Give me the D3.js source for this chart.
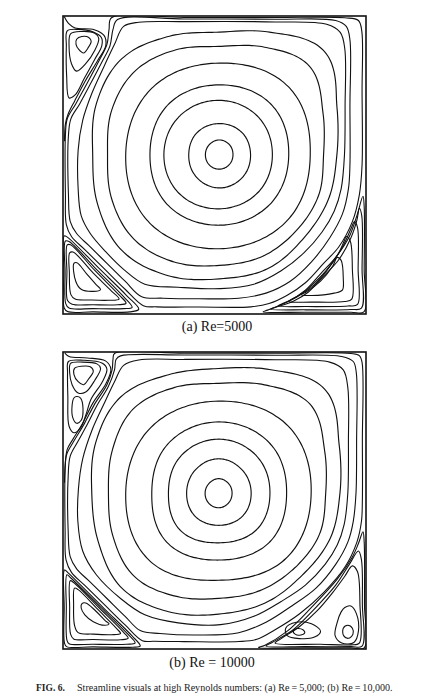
<!DOCTYPE html>
<html><head><meta charset="utf-8">
<script src="https://cdn.jsdelivr.net/npm/d3@7"></script>
<style>html,body{margin:0;padding:0;background:#fff}svg{display:block}</style>
</head><body>
<script>
// ---------- DATA (cavity coordinates: x 0..1 left->right, y 0..1 bottom->top) ----------
const panelLabels = ["(a) Re=5000", "(b) Re = 10000"];
const figCaptionBold = "FIG. 6.";
const figCaptionText = "Streamline visuals at high Reynolds numbers: (a) Re\u2009=\u20095,000; (b) Re\u2009=\u200910,000.";

// Panel (a) Re=5000 : primary-vortex rings as radii at equally spaced angles (from +x, counter-clockwise)
const centerA = [0.516, 0.535];
const ringsA = [
  [0.045,0.047,0.049,0.047,0.046,0.048,0.049,0.047],
  [0.103,0.105,0.104,0.104,0.101,0.107,0.112,0.108],
  [0.175,0.180,0.182,0.184,0.183,0.186,0.182,0.180],
  [0.229,0.240,0.234,0.238,0.229,0.240,0.237,0.236],
  [0.300,0.322,0.307,0.315,0.309,0.325,0.316,0.315],
  [0.344,0.370,0.420,0.390,0.363,0.380,0.395,0.385,0.369,0.385,0.400,0.390,0.372,0.370,0.360,0.355],
  [0.388,0.420,0.490,0.444,0.411,0.430,0.455,0.440,0.418,0.435,0.455,0.440,0.417,0.415,0.395,0.390]
];
const outerA = [
  [[0.25,0.979],[0.40,0.981],[0.70,0.980],[0.87,0.972],[0.915,0.945],[0.930,0.89],[0.931,0.70],[0.929,0.535],[0.918,0.42],[0.895,0.345],[0.855,0.275],[0.795,0.205],[0.72,0.145],[0.63,0.10],[0.52,0.085],[0.38,0.09],[0.27,0.10],[0.20,0.15],[0.14,0.21],[0.09,0.27],[0.06,0.33],[0.05,0.42],[0.05,0.55],[0.065,0.65],[0.095,0.74],[0.135,0.83],[0.17,0.905],[0.20,0.965]],
  [[0.18,0.988],[0.40,0.990],[0.70,0.989],[0.90,0.985],[0.935,0.965],[0.947,0.92],[0.947,0.70],[0.947,0.50],[0.942,0.42],[0.922,0.335],[0.88,0.255],[0.82,0.175],[0.75,0.11],[0.67,0.07],[0.58,0.053],[0.45,0.051],[0.33,0.053],[0.26,0.058],[0.205,0.11],[0.145,0.17],[0.085,0.23],[0.045,0.27],[0.024,0.31],[0.018,0.40],[0.018,0.60],[0.026,0.655],[0.055,0.705],[0.092,0.775],[0.128,0.845],[0.155,0.90],[0.165,0.955]],
  [[0.16,0.994],[0.40,0.995],[0.70,0.995],[0.93,0.994],[0.975,0.985],[0.986,0.95],[0.987,0.75],[0.987,0.50],[0.978,0.40],[0.955,0.31],[0.91,0.225],[0.86,0.17],[0.80,0.105],[0.74,0.063],[0.68,0.035],[0.62,0.024],[0.45,0.0235],[0.31,0.024],[0.265,0.028],[0.205,0.083],[0.135,0.153],[0.072,0.216],[0.028,0.26],[0.011,0.30],[0.008,0.40],[0.008,0.60],[0.014,0.655],[0.042,0.705],[0.08,0.775],[0.118,0.848],[0.145,0.905],[0.152,0.955]]
];
const topLeftA = [
  [[0.045,0.922],[0.062,0.931],[0.085,0.928],[0.093,0.915],[0.082,0.892],[0.068,0.876],[0.052,0.888],[0.043,0.905]],
  [[0.025,0.94],[0.06,0.948],[0.105,0.942],[0.118,0.925],[0.105,0.885],[0.075,0.84],[0.045,0.815],[0.028,0.84],[0.02,0.90]],
  [[0.014,0.95],[0.05,0.955],[0.10,0.946],[0.127,0.927],[0.128,0.90],[0.105,0.855],[0.07,0.79],[0.04,0.735],[0.02,0.725],[0.012,0.80],[0.011,0.90]]
];
const separatrixA = [[0.004,0.998],[0.018,0.975],[0.04,0.96],[0.103,0.954],[0.136,0.934],[0.141,0.900],[0.114,0.850],[0.074,0.783],[0.039,0.716],[0.017,0.671],[0.008,0.638],[0.005,0.58]];
const bottomLeftA = [
  [[0.036,0.17],[0.046,0.172],[0.078,0.135],[0.11,0.098],[0.124,0.082],[0.10,0.076],[0.06,0.083],[0.042,0.11]],
  [[0.022,0.205],[0.033,0.208],[0.10,0.137],[0.16,0.077],[0.185,0.05],[0.15,0.046],[0.09,0.047],[0.04,0.05],[0.026,0.065],[0.021,0.14]],
  [[0.014,0.232],[0.025,0.232],[0.105,0.146],[0.185,0.064],[0.208,0.036],[0.18,0.031],[0.10,0.031],[0.03,0.033],[0.015,0.045],[0.013,0.14]],
  [[0.008,0.245],[0.02,0.243],[0.112,0.148],[0.2,0.058],[0.228,0.022],[0.2,0.018],[0.10,0.018],[0.02,0.02],[0.009,0.035],[0.007,0.14]],
  [[0.004,0.262],[0.014,0.258],[0.12,0.152],[0.21,0.062],[0.25,0.016],[0.22,0.007],[0.10,0.007],[0.015,0.008],[0.004,0.02],[0.003,0.14]]
];
const bottomRightA = [
  [[0.905,0.19],[0.918,0.18],[0.925,0.12],[0.922,0.08],[0.895,0.07],[0.82,0.062],[0.785,0.065],[0.80,0.072],[0.85,0.11],[0.89,0.16]],
  [[0.935,0.26],[0.948,0.245],[0.955,0.15],[0.953,0.05],[0.93,0.042],[0.82,0.04],[0.745,0.042],[0.76,0.052],[0.82,0.09],[0.87,0.145],[0.91,0.205],[0.928,0.245]],
  [[0.962,0.31],[0.972,0.29],[0.974,0.15],[0.972,0.032],[0.94,0.027],[0.80,0.025],[0.71,0.027],[0.725,0.035],[0.78,0.062],[0.83,0.105],[0.88,0.16],[0.925,0.23],[0.95,0.285]],
  [[0.978,0.355],[0.986,0.33],[0.987,0.15],[0.985,0.02],[0.95,0.015],[0.80,0.014],[0.685,0.016],[0.70,0.022],[0.76,0.043],[0.81,0.074],[0.86,0.127],[0.91,0.182],[0.95,0.255],[0.97,0.315]],
  [[0.99,0.395],[0.994,0.36],[0.994,0.15],[0.993,0.007],[0.95,0.006],[0.80,0.006],[0.66,0.007],[0.675,0.013],[0.74,0.04],[0.80,0.08],[0.85,0.135],[0.90,0.19],[0.945,0.26],[0.97,0.33]]
];

// Panel (b) Re=10000
const centerB = [0.514, 0.5245];
const ringsB = [
  [0.044,0.046,0.049,0.046,0.045,0.047,0.049,0.046],
  [0.107,0.110,0.116,0.110,0.106,0.110,0.108,0.110],
  [0.169,0.177,0.182,0.177,0.166,0.178,0.167,0.175],
  [0.224,0.238,0.240,0.236,0.221,0.238,0.225,0.235],
  [0.305,0.322,0.310,0.315,0.307,0.322,0.293,0.312],
  [0.353,0.378,0.425,0.395,0.370,0.385,0.400,0.380,0.364,0.378,0.395,0.375,0.354,0.355,0.355,0.360],
  [0.400,0.430,0.495,0.450,0.420,0.432,0.458,0.440,0.419,0.430,0.452,0.432,0.407,0.400,0.390,0.398]
];
const outerB = [
  [[0.25,0.973],[0.40,0.975],[0.70,0.974],[0.88,0.966],[0.925,0.94],[0.940,0.88],[0.942,0.70],[0.940,0.525],[0.928,0.42],[0.905,0.35],[0.865,0.285],[0.80,0.215],[0.72,0.16],[0.63,0.11],[0.52,0.082],[0.38,0.088],[0.27,0.115],[0.19,0.17],[0.11,0.25],[0.065,0.33],[0.049,0.43],[0.051,0.54],[0.065,0.64],[0.095,0.735],[0.135,0.825],[0.17,0.90],[0.20,0.955]],
  [[0.19,0.987],[0.40,0.990],[0.70,0.989],[0.92,0.985],[0.958,0.968],[0.968,0.93],[0.969,0.70],[0.967,0.525],[0.958,0.43],[0.94,0.36],[0.90,0.285],[0.835,0.205],[0.755,0.145],[0.67,0.09],[0.58,0.055],[0.45,0.047],[0.32,0.052],[0.255,0.062],[0.205,0.11],[0.145,0.17],[0.085,0.23],[0.045,0.27],[0.024,0.31],[0.017,0.40],[0.017,0.58],[0.024,0.65],[0.05,0.70],[0.082,0.76],[0.112,0.82],[0.15,0.885],[0.17,0.94],[0.175,0.975]],
  [[0.17,0.995],[0.40,0.996],[0.70,0.996],[0.95,0.995],[0.978,0.988],[0.987,0.965],[0.988,0.70],[0.988,0.50],[0.985,0.43],[0.97,0.36],[0.93,0.275],[0.86,0.19],[0.78,0.118],[0.70,0.065],[0.64,0.033],[0.58,0.025],[0.40,0.025],[0.30,0.026],[0.262,0.028],[0.205,0.081],[0.135,0.151],[0.072,0.214],[0.028,0.258],[0.010,0.30],[0.007,0.40],[0.007,0.60],[0.012,0.655],[0.036,0.70],[0.07,0.758],[0.103,0.822],[0.145,0.89],[0.162,0.94],[0.165,0.975]]
];
const topLeftB = [
  [[0.038,0.945],[0.06,0.952],[0.09,0.95],[0.10,0.935],[0.085,0.91],[0.068,0.89],[0.05,0.90],[0.036,0.925]],
  [[0.025,0.962],[0.065,0.966],[0.112,0.96],[0.124,0.945],[0.105,0.905],[0.075,0.865],[0.05,0.862],[0.03,0.89],[0.022,0.93]],
  [[0.045,0.85],[0.058,0.845],[0.066,0.81],[0.06,0.77],[0.045,0.76],[0.032,0.78],[0.03,0.82],[0.036,0.845]],
  [[0.018,0.968],[0.07,0.972],[0.13,0.962],[0.145,0.942],[0.13,0.90],[0.092,0.84],[0.076,0.79],[0.058,0.745],[0.036,0.728],[0.02,0.75],[0.016,0.85],[0.015,0.93]]
];
const separatrixB = [[0.006,0.996],[0.02,0.985],[0.08,0.98],[0.14,0.97],[0.158,0.942],[0.142,0.894],[0.098,0.827],[0.064,0.758],[0.032,0.705],[0.014,0.672],[0.007,0.62],[0.005,0.56]];
const bottomLeftB = [
  [[0.062,0.152],[0.075,0.155],[0.108,0.128],[0.14,0.095],[0.152,0.085],[0.138,0.08],[0.10,0.092],[0.072,0.115],[0.06,0.138]],
  [[0.038,0.205],[0.05,0.2],[0.12,0.128],[0.178,0.068],[0.19,0.052],[0.16,0.048],[0.10,0.05],[0.05,0.055],[0.038,0.08],[0.035,0.15]],
  [[0.024,0.23],[0.035,0.224],[0.12,0.138],[0.2,0.056],[0.215,0.036],[0.19,0.031],[0.10,0.032],[0.035,0.034],[0.025,0.05],[0.022,0.14]],
  [[0.013,0.25],[0.025,0.24],[0.125,0.14],[0.215,0.049],[0.238,0.02],[0.21,0.016],[0.10,0.016],[0.02,0.018],[0.013,0.03],[0.011,0.14]],
  [[0.005,0.266],[0.016,0.257],[0.135,0.137],[0.228,0.044],[0.255,0.01],[0.23,0.006],[0.10,0.007],[0.012,0.008],[0.005,0.02],[0.004,0.14]]
];
const bottomRightB = [
  [[0.76,0.062],[0.775,0.069],[0.793,0.064],[0.798,0.055],[0.785,0.047],[0.766,0.05]],
  [[0.925,0.07],[0.94,0.08],[0.955,0.07],[0.957,0.05],[0.942,0.036],[0.926,0.045]],
  [[0.735,0.07],[0.77,0.09],[0.82,0.085],[0.85,0.06],[0.83,0.04],[0.78,0.035],[0.74,0.045]],
  [[0.93,0.14],[0.95,0.145],[0.968,0.12],[0.975,0.06],[0.96,0.022],[0.92,0.02],[0.898,0.045],[0.905,0.09],[0.918,0.125]],
  [[0.955,0.28],[0.972,0.26],[0.98,0.15],[0.978,0.02],[0.95,0.014],[0.85,0.016],[0.70,0.02],[0.72,0.035],[0.78,0.075],[0.84,0.13],[0.89,0.19],[0.93,0.245]],
  [[0.975,0.33],[0.985,0.30],[0.988,0.15],[0.987,0.01],[0.95,0.008],[0.80,0.008],[0.67,0.01],[0.69,0.022],[0.76,0.065],[0.83,0.135],[0.90,0.215],[0.945,0.285]],
  [[0.99,0.395],[0.994,0.36],[0.995,0.15],[0.994,0.004],[0.95,0.004],[0.80,0.004],[0.645,0.005],[0.665,0.012],[0.74,0.06],[0.82,0.14],[0.905,0.235],[0.955,0.31],[0.975,0.355]]
];

// ---------- DRAWING ----------
const W = 428, H = 699;
const svg = d3.select("body").append("svg").attr("width", W).attr("height", H);

const panels = [
  {label: panelLabels[0], center: centerA, rings: ringsA, loops: [...outerA, ...topLeftA, ...bottomLeftA, ...bottomRightA], open: [separatrixA],
   box: {x0: 63, x1: 366, y0: 16, y1: 314}, labelX: 217, labelY: 331},
  {label: panelLabels[1], center: centerB, rings: ringsB, loops: [...outerB, ...topLeftB, ...bottomLeftB, ...bottomRightB], open: [separatrixB],
   box: {x0: 63, x1: 366, y0: 352, y1: 649}, labelX: 212, labelY: 667}
];

// smooth closed ring: radius varies smoothly with angle (periodic cubic through the given radii)
function ringPath(center, radii, steps) {
  const n = radii.length, pts = [];
  for (let k = 0; k < steps; k++) {
    const t = k / steps * n, i = Math.floor(t), f = t - i;
    const p0 = radii[(i - 1 + n) % n], p1 = radii[i % n], p2 = radii[(i + 1) % n], p3 = radii[(i + 2) % n];
    const r = 0.5 * (2 * p1 + (-p0 + p2) * f + (2 * p0 - 5 * p1 + 4 * p2 - p3) * f * f + (-p0 + 3 * p1 - 3 * p2 + p3) * f * f * f);
    const a = 2 * Math.PI * k / steps;
    pts.push([center[0] + r * Math.cos(a), center[1] + r * Math.sin(a)]);
  }
  return pts;
}

const defs = svg.append("defs");

panels.forEach((p, pi) => {
  const x = d3.scaleLinear().domain([0, 1]).range([p.box.x0, p.box.x1]);
  const y = d3.scaleLinear().domain([0, 1]).range([p.box.y1, p.box.y0]);
  const closed = d3.line().x(d => x(d[0])).y(d => y(d[1])).curve(d3.curveCatmullRomClosed.alpha(0.5));
  const open = d3.line().x(d => x(d[0])).y(d => y(d[1])).curve(d3.curveCatmullRom.alpha(0.5));

  defs.append("clipPath").attr("id", "clip" + pi).append("rect")
    .attr("x", x(0)).attr("y", y(1)).attr("width", x(1) - x(0)).attr("height", y(0) - y(1));

  const g = svg.append("g").attr("clip-path", `url(#clip${pi})`);

  const ringPts = p.rings.map(radii => ringPath(p.center, radii, 144));

  g.selectAll("path.ring").data(ringPts).join("path").attr("class", "ring")
    .attr("d", closed).attr("fill", "none").attr("stroke", "#111").attr("stroke-width", 1.15);
  g.selectAll("path.loop").data(p.loops).join("path").attr("class", "loop")
    .attr("d", closed).attr("fill", "none").attr("stroke", "#111").attr("stroke-width", 1.1);
  g.selectAll("path.open").data(p.open).join("path").attr("class", "open")
    .attr("d", open).attr("fill", "none").attr("stroke", "#111").attr("stroke-width", 1.1);

  svg.append("rect").attr("x", x(0)).attr("y", y(1)).attr("width", x(1) - x(0)).attr("height", y(0) - y(1))
    .attr("fill", "none").attr("stroke", "#111").attr("stroke-width", 1.6);

  svg.append("text").attr("x", p.labelX).attr("y", p.labelY).attr("text-anchor", "middle")
    .attr("font-family", "'Liberation Serif','Times New Roman',serif").attr("font-size", 14).attr("fill", "#111")
    .text(p.label);
});

const cap = svg.append("text").attr("x", 36).attr("y", 691)
  .attr("font-family", "'Liberation Serif','Times New Roman',serif").attr("font-size", 9.5).attr("fill", "#222");
cap.append("tspan").attr("font-weight", "bold").text(figCaptionBold);
const body = cap.append("tspan").attr("x", 77).text(figCaptionText);
const bw = body.node().getComputedTextLength();
body.attr("font-size", 9.5 * (393 - 77) / bw);
</script>
</body></html>
